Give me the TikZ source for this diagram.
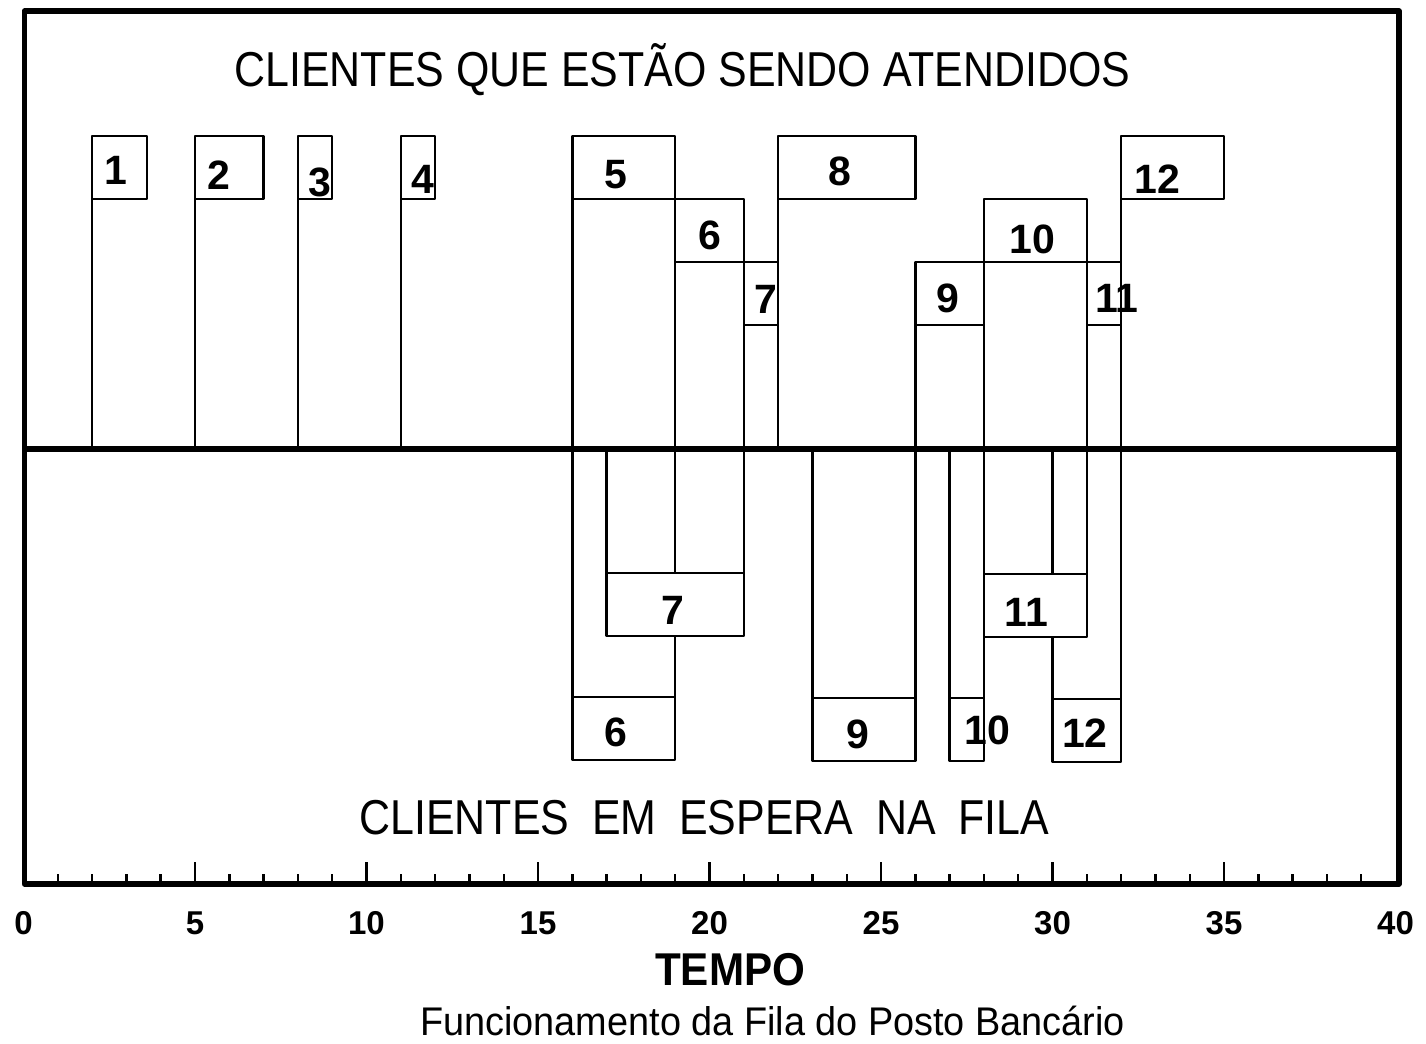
\documentclass[tikz,border=0pt]{standalone}
\usepackage{fontspec}
\setmainfont{Liberation Sans}
\usetikzlibrary{backgrounds}

\begin{document}
\begin{tikzpicture}[x=34.3pt, y=-1pt, line join=round]
  \tikzset{
    box/.style={
      draw,
      fill=white,
      line width=2.4pt,
      inner sep=0pt,
      outer sep=0pt,
      minimum height=63pt,
      anchor=north west},
    dur/.style={minimum width=#1*34.3pt},
    num/.style={
      inner sep=0pt,
      text height=29pt,
      text depth=0pt,
      font=\fontsize{41}{41}\selectfont\bfseries},
    bar/.style={line width=2.4pt},
    heading/.style={font=\fontsize{49}{49}\selectfont}}

  \useasboundingbox (-0.685,0) rectangle (40.889,1043);

  % frame, middle line and time axis
  \draw[line width=5.5pt] (0.03,11) rectangle (40.1,884);
  \coordinate (midL) at (0.03,449);
  \coordinate (midR) at (40.1,449);
  \draw[line width=6pt] (midL) -- (midR);

  \foreach \t in {1,...,39}
    \draw[bar] (\t,884) -- (\t,874);
  \foreach \t in {5,10,...,35}
    \draw[bar] (\t,884) -- (\t,862);
  \foreach \t in {0,5,...,40}
    \node[anchor=base, inner sep=0pt, font=\fontsize{33}{33}\selectfont\bfseries] (tl\t) at (\t,934) {\t};

  \node[heading] (served) at (19.21,70)
    {\scalebox{0.876}[1]{CLIENTES QUE ESTÃO SENDO ATENDIDOS}};
  \node[heading] (waiting) at (19.85,818)
    {\scalebox{0.876}[1]{CLIENTES\hspace{0.53em}EM\hspace{0.53em}ESPERA\hspace{0.53em}NA\hspace{0.53em}FILA}};
  \node[font=\fontsize{46}{46}\selectfont\bfseries] (tempo) at (20.6,970)
    {\scalebox{0.917}[1]{TEMPO}};
  \node[font=\fontsize{40}{40}\selectfont] (caption) at (21.84,1021)
    {\scalebox{0.946}[1]{Funcionamento da Fila do Posto Bancário}};

  % clientes sendo atendidos
  \node[box, dur=1.6] (a1) at (2,136) {};
  \node[box, dur=2] (a2) at (5,136) {};
  \node[box, dur=1] (a3) at (8,136) {};
  \node[box, dur=1] (a4) at (11,136) {};
  \node[box, dur=3] (a5) at (16,136) {};
  \node[box, dur=2] (a6) at (19,199) {};
  \node[box, dur=1] (a7) at (21,262) {};
  \node[box, dur=4] (a8) at (22,136) {};
  \node[box, dur=2] (a9) at (26,262) {};
  \node[box, dur=3] (a10) at (28,199) {};
  \node[box, dur=1] (a11) at (31,262) {};
  \node[box, dur=3] (a12) at (32,136) {};

  % clientes em espera
  \node[box, dur=3] (f6) at (16,697) {};
  \node[box, dur=4] (f7) at (17,573) {};
  \node[box, dur=3] (f9) at (23,698) {};
  \node[box, dur=1] (f10) at (27,698) {};
  \node[box, dur=3] (f11) at (28,574) {};
  \node[box, dur=2] (f12) at (30,699) {};

  \begin{scope}[on background layer]
    \draw[bar] (a1.north west) -- (a1.north west |- midL);
    \draw[bar] (a2.north west) -- (a2.north west |- midL);
    \draw[bar] (a3.north west) -- (a3.north west |- midL);
    \draw[bar] (a4.north west) -- (a4.north west |- midL);
    \draw[bar] (a5.north west) -- (a5.north west |- midL);
    \draw[bar] (a6.north west) -- (a6.north west |- midL);
    \draw[bar] (a7.north west) -- (a7.north west |- midL);
    \draw[bar] (a8.north west) -- (a8.north west |- midL);
    \draw[bar] (a9.north west) -- (a9.north west |- midL);
    \draw[bar] (a10.north west) -- (a10.north west |- midL);
    \draw[bar] (a11.north west) -- (a11.north west |- midL);
    \draw[bar] (a12.north west) -- (a12.north west |- midL);

    \draw[bar] (f6.north west |- midL) -- (f6.north west);
    \draw[bar] (f6.north east |- midL) -- (f6.north east);
    \draw[bar] (f7.north west |- midL) -- (f7.north west);
    \draw[bar] (f7.north east |- midL) -- (f7.north east);
    \draw[bar] (f9.north west |- midL) -- (f9.north west);
    \draw[bar] (f9.north east |- midL) -- (f9.north east);
    \draw[bar] (f10.north west |- midL) -- (f10.north west);
    \draw[bar] (f10.north east |- midL) -- (f10.north east);
    \draw[bar] (f11.north west |- midL) -- (f11.north west);
    \draw[bar] (f11.north east |- midL) -- (f11.north east);
    \draw[bar] (f12.north west |- midL) -- (f12.north west);
    \draw[bar] (f12.north east |- midL) -- (f12.north east);
  \end{scope}

  \node[num, xshift=-4pt, yshift=-2pt] (na1) at (a1) {1};
  \node[num, xshift=-10pt, yshift=-7pt] (na2) at (a2) {2};
  \node[num, xshift=5pt, yshift=-14pt] (na3) at (a3) {3};
  \node[num, xshift=5pt, yshift=-11pt] (na4) at (a4) {4};
  \node[num, xshift=-8pt, yshift=-6pt] (na5) at (a5) {5};
  \node[num, yshift=-4pt] (na6) at (a6) {6};
  \node[num, xshift=5pt, yshift=-5pt] (na7) at (a7) {7};
  \node[num, xshift=-7pt, yshift=-3pt] (na8) at (a8) {8};
  \node[num, xshift=-2pt, yshift=-4pt] (na9) at (a9) {9};
  \node[num, xshift=-3pt, yshift=-8pt] (na10) at (a10) {10};
  \node[num, xshift=13pt, yshift=-4pt] (na11) at (a11) {11};
  \node[num, xshift=-15pt, yshift=-11pt] (na12) at (a12) {12};

  \node[num, xshift=-8pt, yshift=-3pt] (nf6) at (f6) {6};
  \node[num, xshift=-2pt, yshift=-5pt] (nf7) at (f7) {7};
  \node[num, xshift=-6pt, yshift=-4pt] (nf9) at (f9) {9};
  \node[num, xshift=21pt] (nf10) at (f10) {10};
  \node[num, xshift=-9pt, yshift=-6pt] (nf11) at (f11) {11};
  \node[num, xshift=-2pt, yshift=-2pt] (nf12) at (f12) {12};

\end{tikzpicture}
\end{document}
